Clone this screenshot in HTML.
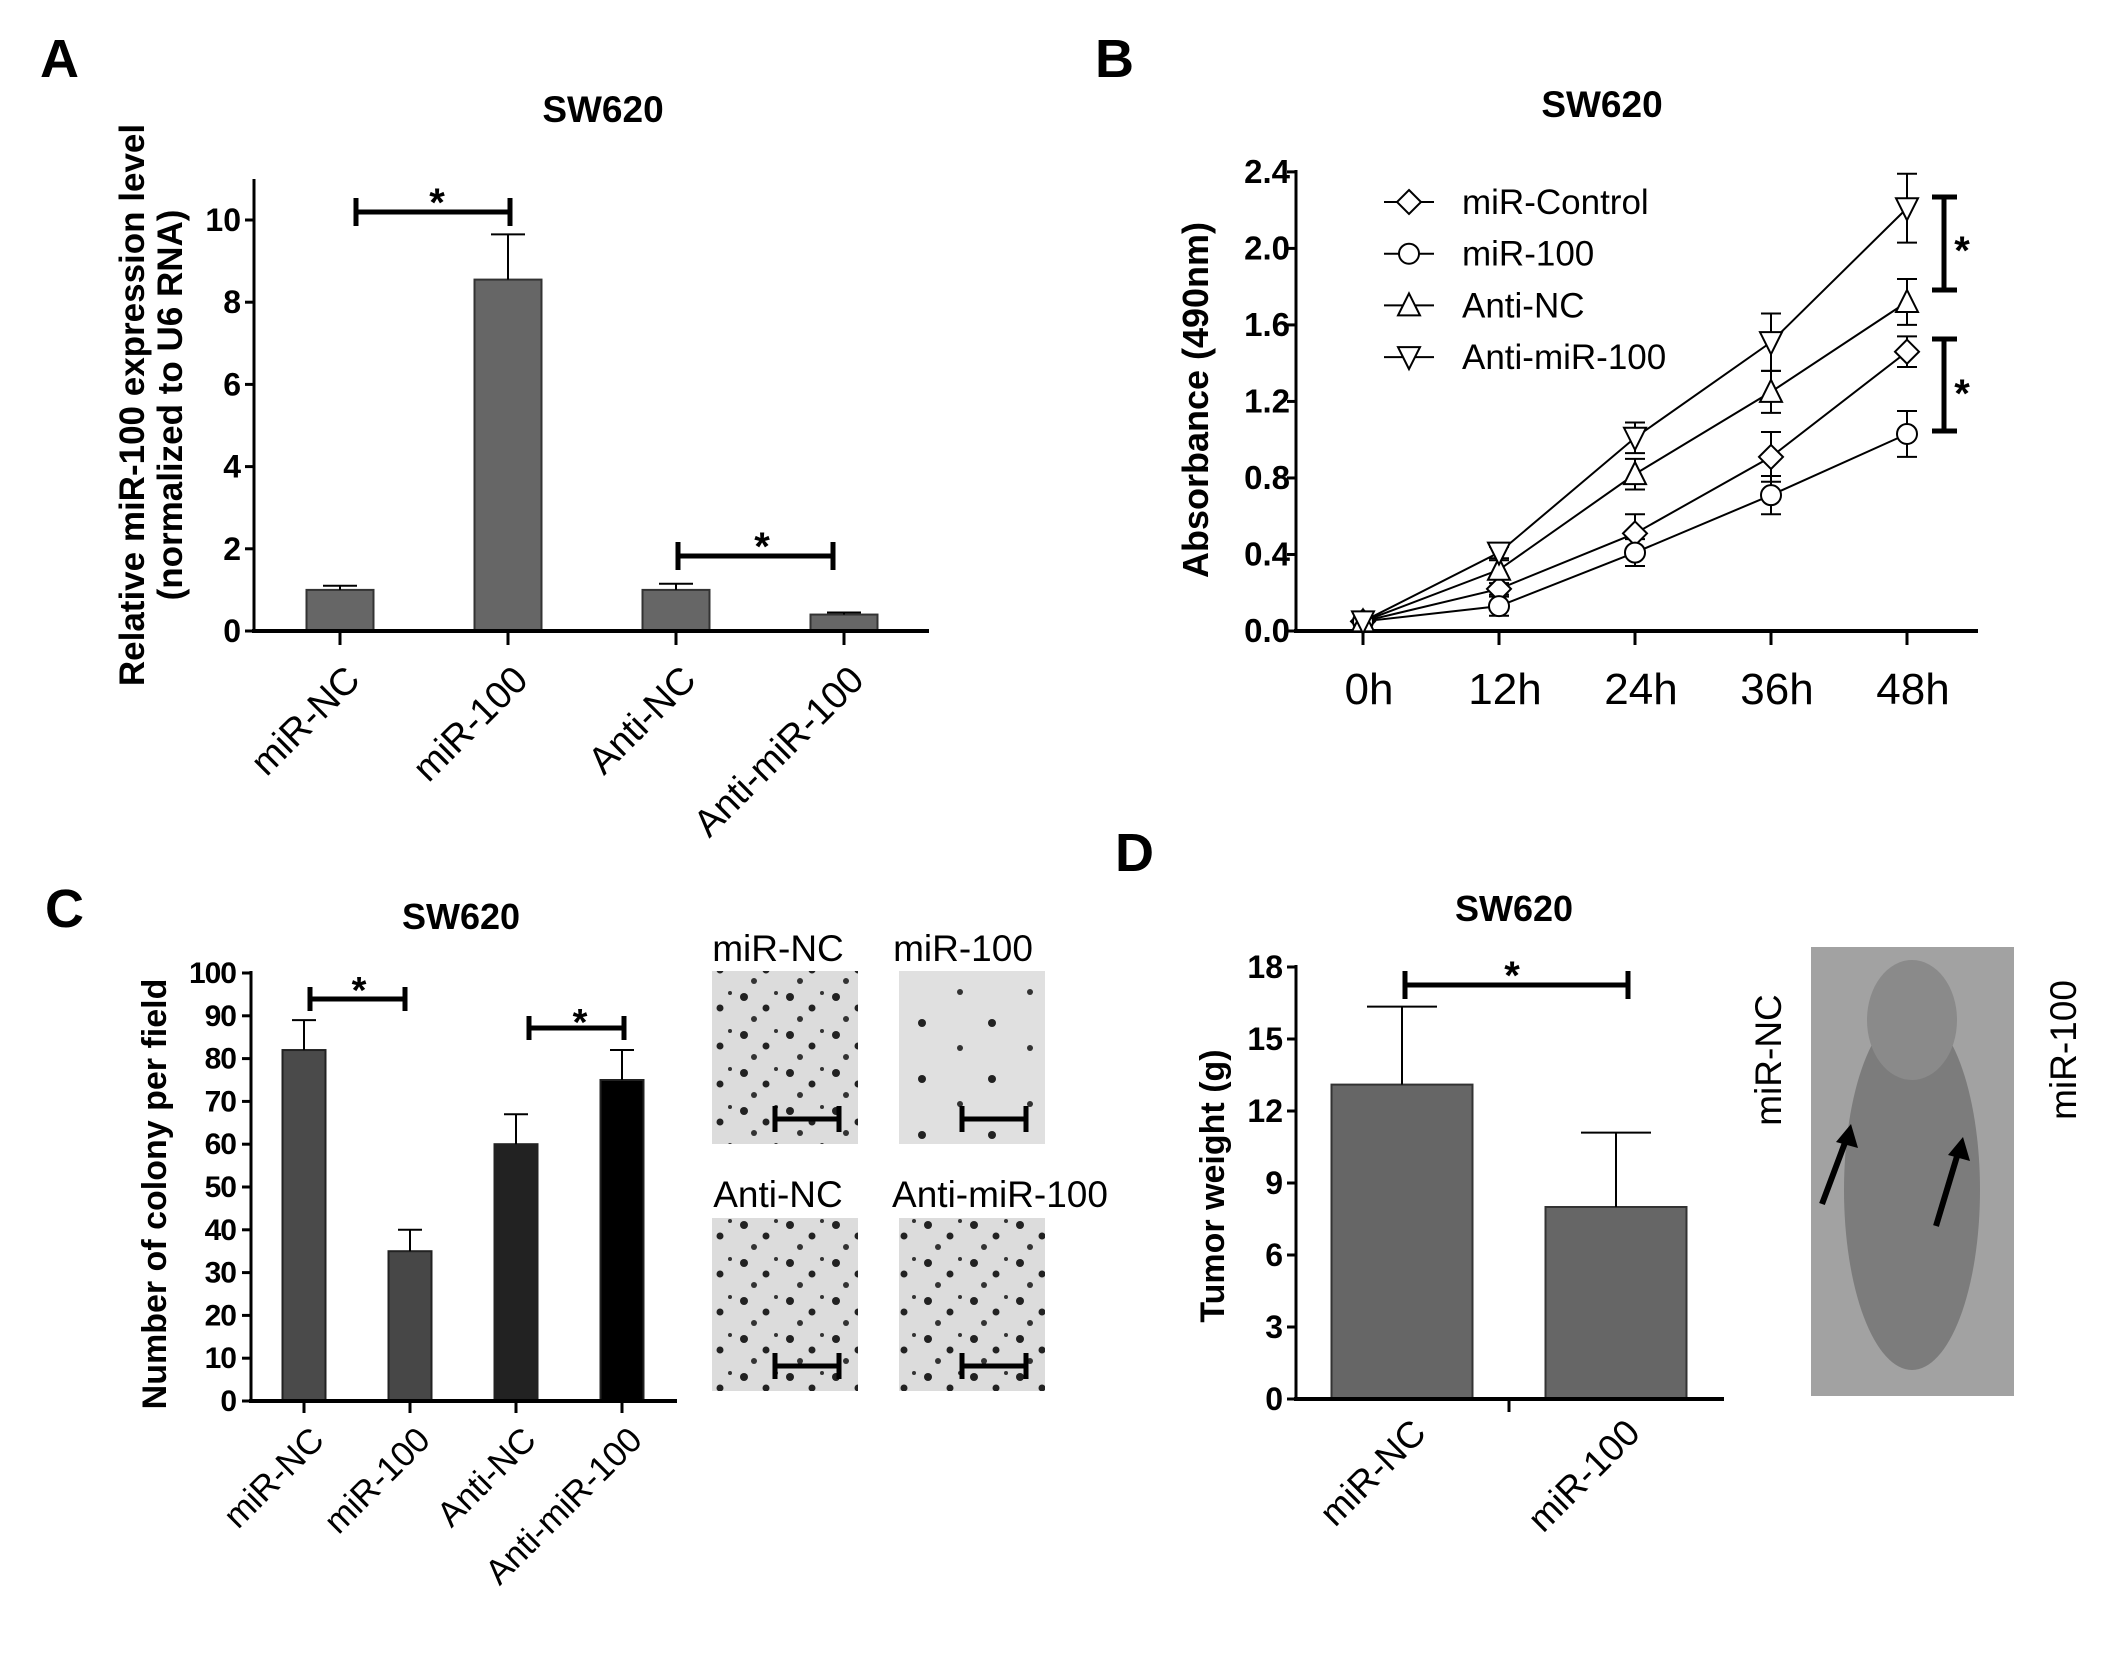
<!DOCTYPE html>
<html><head><meta charset="utf-8"><style>
html,body{margin:0;padding:0;background:#fff}
svg{display:block;font-family:"Liberation Sans",Arial,sans-serif}
</style></head><body>
<svg id="fig" width="2126" height="1662" viewBox="0 0 2126 1662" xmlns="http://www.w3.org/2000/svg">
<defs>
<pattern id="dotsA" width="46" height="38" patternUnits="userSpaceOnUse">
<rect width="46" height="38" fill="#dcdcdc"/>
<circle cx="8" cy="9" r="4" fill="#222"/><circle cx="30" cy="20" r="3.5" fill="#222"/><circle cx="18" cy="31" r="3" fill="#333"/><circle cx="40" cy="5" r="2" fill="#333"/>
</pattern>
<pattern id="dotsB" width="70" height="56" patternUnits="userSpaceOnUse">
<rect width="70" height="56" fill="#e0e0e0"/>
<circle cx="12" cy="15" r="4" fill="#222"/><circle cx="50" cy="40" r="3" fill="#333"/>
</pattern>
</defs>
</svg>
<script>
// ---- Panel A data ----
const aCats = ["miR-NC","miR-100","Anti-NC","Anti-miR-100"];
const aVals = [1.0, 8.55, 1.0, 0.4];
const aErr = [0.1, 1.1, 0.15, 0.05];
const aTicks = [0,2,4,6,8,10];
// ---- Panel B data ----
const bTimes = ["0h","12h","24h","36h","48h"];
const bSeriesNames = ["miR-Control","miR-100","Anti-NC","Anti-miR-100"];
const bControl = [0.05, 0.22, 0.51, 0.91, 1.46];
const bMir100 = [0.05, 0.13, 0.41, 0.71, 1.03];
const bAntiNC = [0.05, 0.32, 0.82, 1.25, 1.72];
const bAntiMir = [0.05, 0.41, 1.01, 1.51, 2.21];
const bErrControl = [0.02, 0.03, 0.10, 0.13, 0.08];
const bErrMir100 = [0.02, 0.05, 0.07, 0.10, 0.12];
const bErrAntiNC = [0.02, 0.05, 0.08, 0.11, 0.12];
const bErrAntiMir = [0.02, 0.03, 0.08, 0.15, 0.18];
const bTicks = ["0.0","0.4","0.8","1.2","1.6","2.0","2.4"];
// ---- Panel C data ----
const cCats = ["miR-NC","miR-100","Anti-NC","Anti-miR-100"];
const cVals = [82, 35, 60, 75];
const cErr = [7, 5, 7, 7];
const cTicks = [0,10,20,30,40,50,60,70,80,90,100];
// ---- Panel D data ----
const dCats = ["miR-NC","miR-100"];
const dVals = [13.1, 8.0];
const dErr = [3.25, 3.1];
const dTicks = [0,3,6,9,12,15,18];

const svg = document.getElementById('fig');
const NS = "http://www.w3.org/2000/svg";
function mk(tag, attrs, txt){
  const e = document.createElementNS(NS, tag);
  for (const k in attrs) e.setAttribute(k, attrs[k]);
  if (txt !== undefined) e.textContent = txt;
  svg.appendChild(e);
  return e;
}
function line(x1,y1,x2,y2,w){ return mk('line',{x1:x1,y1:y1,x2:x2,y2:y2,stroke:'#000','stroke-width':w}); }
let e;
function sigH(x1,x2,y,h,sx,sy,fs,name){
  const g = [line(x1,y,x2,y,5), line(x1,y-h,x1,y+h,5), line(x2,y-h,x2,y+h,5)];
  g.forEach(l=>{   });
  const s = mk('text',{x:sx,y:sy,'font-size':fs,'font-weight':'bold','text-anchor':'middle'},'*');
  
  
}

// ===== Panel A =====
const aY = v => 631 - v*41.1;
const aX = i => 340 + i*168;
e = mk('text',{x:40,y:77,'font-size':54,'font-weight':'bold'},'A');


e = mk('text',{x:603,y:122,'font-size':37,'font-weight':'bold','text-anchor':'middle'},'SW620');


aVals.forEach((v,i)=>{
  const b = mk('rect',{x:aX(i)-33.5,y:aY(v),width:67,height:aY(0)-aY(v),fill:'#666',stroke:'#333','stroke-width':2});
  
  
  const er = line(aX(i),aY(v),aX(i),aY(v+aErr[i]),2);
  
  
  const ec = line(aX(i)-17,aY(v+aErr[i]),aX(i)+17,aY(v+aErr[i]),2);
  
  
  const tk = line(aX(i),631,aX(i),645,3);
  
  
  const lb = mk('text',{x:aX(i)+22,y:682,'font-size':38,'text-anchor':'end',transform:`rotate(-45 ${aX(i)+22} 682)`},aCats[i]);
  
  
});
e = line(254,179,254,633,3);  
e = line(252,631,929,631,4);  
aTicks.forEach(t=>{
  const tk = line(245,aY(t),254,aY(t),3);
  
  
  const tl = mk('text',{x:241,y:aY(t)+11,'font-size':32,'font-weight':'bold','text-anchor':'end'},t);
  
  
});
e = mk('text',{x:0,y:0,'font-size':35,'font-weight':'bold','text-anchor':'middle',transform:'translate(144 405) rotate(-90)'},'Relative miR-100 expression level');
 
e = mk('text',{x:0,y:0,'font-size':35,'font-weight':'bold','text-anchor':'middle',transform:'translate(182 405) rotate(-90)'},'(normalized to U6 RNA)');
 
sigH(356,510,212,14,437,216,40,'significance-a-1');
sigH(678,833,556,14,762,560,40,'significance-a-2');

// ===== Panel B =====
const bY = v => 631 - v*191.3;
const bX = i => 1363 + i*136;
e = mk('text',{x:1095,y:77,'font-size':54,'font-weight':'bold'},'B');
 
e = mk('text',{x:1602,y:117,'font-size':37,'font-weight':'bold','text-anchor':'middle'},'SW620');
 
e = line(1296,170,1296,633,3);  
e = line(1294,631,1978,631,4);  
bTicks.forEach(t=>{
  const v = parseFloat(t);
  const tk = line(1287,bY(v),1296,bY(v),3);
   
  const tl = mk('text',{x:1290,y:bY(v)+11,'font-size':33,'font-weight':'bold','text-anchor':'end'},t);
   
});
bTimes.forEach((t,i)=>{
  const tk = line(bX(i),631,bX(i),645,3);
   
  const tl = mk('text',{x:bX(i)+6,y:704,'font-size':44,'text-anchor':'middle'},t);
   
});
e = mk('text',{x:0,y:0,'font-size':36,'font-weight':'bold','text-anchor':'middle',transform:'translate(1208 400) rotate(-90)'},'Absorbance (490nm)');
 
function marker(kind,x,y){
  const r = 10;
  if (kind===0) return mk('polygon',{points:`${x},${y-r-2} ${x+r+2},${y} ${x},${y+r+2} ${x-r-2},${y}`,fill:'#fff',stroke:'#000','stroke-width':2});
  if (kind===1) return mk('circle',{cx:x,cy:y,r:r,fill:'#fff',stroke:'#000','stroke-width':2});
  if (kind===2) return mk('polygon',{points:`${x},${y-r-2} ${x+r+1},${y+r} ${x-r-1},${y+r}`,fill:'#fff',stroke:'#000','stroke-width':2});
  return mk('polygon',{points:`${x},${y+r+2} ${x+r+1},${y-r} ${x-r-1},${y-r}`,fill:'#fff',stroke:'#000','stroke-width':2});
}
const bSeries = [bControl,bMir100,bAntiNC,bAntiMir];
const bErrs = [bErrControl,bErrMir100,bErrAntiNC,bErrAntiMir];
bSeries.forEach((s,k)=>{
  const pl = mk('polyline',{points:s.map((v,i)=>bX(i)+','+bY(v)).join(' '),fill:'none',stroke:'#000','stroke-width':2});
  
  
});
bSeries.forEach((s,k)=>{
  s.forEach((v,i)=>{
    const er = bErrs[k][i];
    const l1 = line(bX(i),bY(v-er),bX(i),bY(v+er),2);
     
    const c1 = line(bX(i)-10,bY(v+er),bX(i)+10,bY(v+er),2);
     
    const c2 = line(bX(i)-10,bY(v-er),bX(i)+10,bY(v-er),2);
     
  });
});
bSeries.forEach((s,k)=>{
  s.forEach((v,i)=>{
    const m = marker(k,bX(i),bY(v));
    
    
  });
});
bSeriesNames.forEach((n,k)=>{
  const y = 202 + k*51.7;
  const l = line(1384,y,1434,y,2);
   
  const m = marker(k,1409,y);
   
  const t = mk('text',{x:1462,y:y+12,'font-size':35},n);
   
});
function sigV(x,y1,y2,sx,sy,name){
  const g = [line(x,y1,x,y2,5), line(x-12,y1,x+13,y1,5), line(x-12,y2,x+13,y2,5)];
  g.forEach(l=>{   });
  const s = mk('text',{x:sx,y:sy,'font-size':40,'font-weight':'bold','text-anchor':'middle'},'*');
   
}
sigV(1944,197,290,1962,264,'significance-b-1');
sigV(1944,339,431,1962,407,'significance-b-2');

// ===== Panel C =====
const cY = v => 1401 - v*4.28;
const cX = i => 304 + i*106;
const cFill = ['#4a4a4a','#474747','#222','#000'];
e = mk('text',{x:45,y:927,'font-size':54,'font-weight':'bold'},'C');
 
e = mk('text',{x:461,y:929,'font-size':36,'font-weight':'bold','text-anchor':'middle'},'SW620');
 
cVals.forEach((v,i)=>{
  const b = mk('rect',{x:cX(i)-21.5,y:cY(v),width:43,height:cY(0)-cY(v),fill:cFill[i],stroke:'#222','stroke-width':2});
  
  
  const er = line(cX(i),cY(v),cX(i),cY(v+cErr[i]),2);
   
  const ec = line(cX(i)-12,cY(v+cErr[i]),cX(i)+12,cY(v+cErr[i]),2);
   
  const tk = line(cX(i),1401,cX(i),1413,3);
   
  const lb = mk('text',{x:cX(i)+22,y:1442,'font-size':35,'text-anchor':'end',transform:`rotate(-45 ${cX(i)+22} 1442)`},cCats[i]);
   
});
e = line(251,971,251,1403,3);  
e = line(249,1401,677,1401,4);  
cTicks.forEach(t=>{
  const tk = line(242,cY(t),251,cY(t),3);
   
  const tl = mk('text',{x:236,y:cY(t)+10,'font-size':30,'font-weight':'bold','text-anchor':'end','letter-spacing':-1},t);
   
});
e = mk('text',{x:0,y:0,'font-size':34,'font-weight':'bold','text-anchor':'middle',transform:'translate(166 1194) rotate(-90)'},'Number of colony per field');
 
sigH(310,405,999,12,359,1003,38,'significance-c-1');
sigH(529,624,1028,12,580,1035,38,'significance-c-2');
const colImgs = [["miR-NC",712,971,778,961,'url(#dotsA)'],["miR-100",899,971,963,961,'url(#dotsB)'],["Anti-NC",712,1218,778,1207,'url(#dotsA)'],["Anti-miR-100",899,1218,1000,1207,'url(#dotsA)']];
colImgs.forEach(c=>{
  const r = mk('rect',{x:c[1],y:c[2],width:146,height:173,fill:c[5]});
   
  const sy = c[2]+148;
  [line(c[1]+63,sy,c[1]+127,sy,5),line(c[1]+63,sy-13,c[1]+63,sy+13,5),line(c[1]+127,sy-13,c[1]+127,sy+13,5)].forEach(l=>{
     
  });
  const t = mk('text',{x:c[3],y:c[4],'font-size':37,'text-anchor':'middle'},c[0]);
   
});

// ===== Panel D =====
const dY = v => 1399 - v*24;
const dX = i => 1402 + i*214;
e = mk('text',{x:1115,y:871,'font-size':54,'font-weight':'bold'},'D');
 
e = mk('text',{x:1514,y:921,'font-size':36,'font-weight':'bold','text-anchor':'middle'},'SW620');
 
dVals.forEach((v,i)=>{
  const b = mk('rect',{x:dX(i)-70.5,y:dY(v),width:141,height:dY(0)-dY(v),fill:'#666',stroke:'#333','stroke-width':2});
  
  
  const er = line(dX(i),dY(v),dX(i),dY(v+dErr[i]),2);
   
  const ec = line(dX(i)-35,dY(v+dErr[i]),dX(i)+35,dY(v+dErr[i]),2);
   
  const lb = mk('text',{x:dX(i)+26,y:1435,'font-size':37,'text-anchor':'end',transform:`rotate(-45 ${dX(i)+26} 1435)`},dCats[i]);
   
});
e = line(1509,1399,1509,1412,3);  
e = line(1296,965,1296,1401,3);  
e = line(1294,1399,1724,1399,4);  
dTicks.forEach(t=>{
  const tk = line(1287,dY(t),1296,dY(t),3);
   
  const tl = mk('text',{x:1283,y:dY(t)+11,'font-size':32,'font-weight':'bold','text-anchor':'end'},t);
   
});
e = mk('text',{x:0,y:0,'font-size':34,'font-weight':'bold','text-anchor':'middle',transform:'translate(1224 1186) rotate(-90)'},'Tumor weight (g)');
 
sigH(1405,1628,985,14,1512,989,40,'significance-d');
e = mk('rect',{x:1811,y:947,width:203,height:449,fill:'#a2a2a2'});
 
e = mk('ellipse',{cx:1912,cy:1190,rx:68,ry:180,fill:'#7c7c7c'});
 
e = mk('ellipse',{cx:1912,cy:1020,rx:45,ry:60,fill:'#8a8a8a'});
 
[[1822,1204,1846,1140],[1936,1226,1958,1153]].forEach(a=>{
  const l = line(a[0],a[1],a[2],a[3],6);
   
  const h = mk('polygon',{points:`${a[2]+5},${a[3]-16} ${a[2]+12},${a[3]+8} ${a[2]-10},${a[3]+2}`,fill:'#000'});
   
});
e = mk('text',{x:0,y:0,'font-size':37,'text-anchor':'middle',transform:'translate(1781 1060) rotate(-90)'},'miR-NC');
 
e = mk('text',{x:0,y:0,'font-size':37,'text-anchor':'middle',transform:'translate(2076 1050) rotate(-90)'},'miR-100');
 
</script>
</body></html>
